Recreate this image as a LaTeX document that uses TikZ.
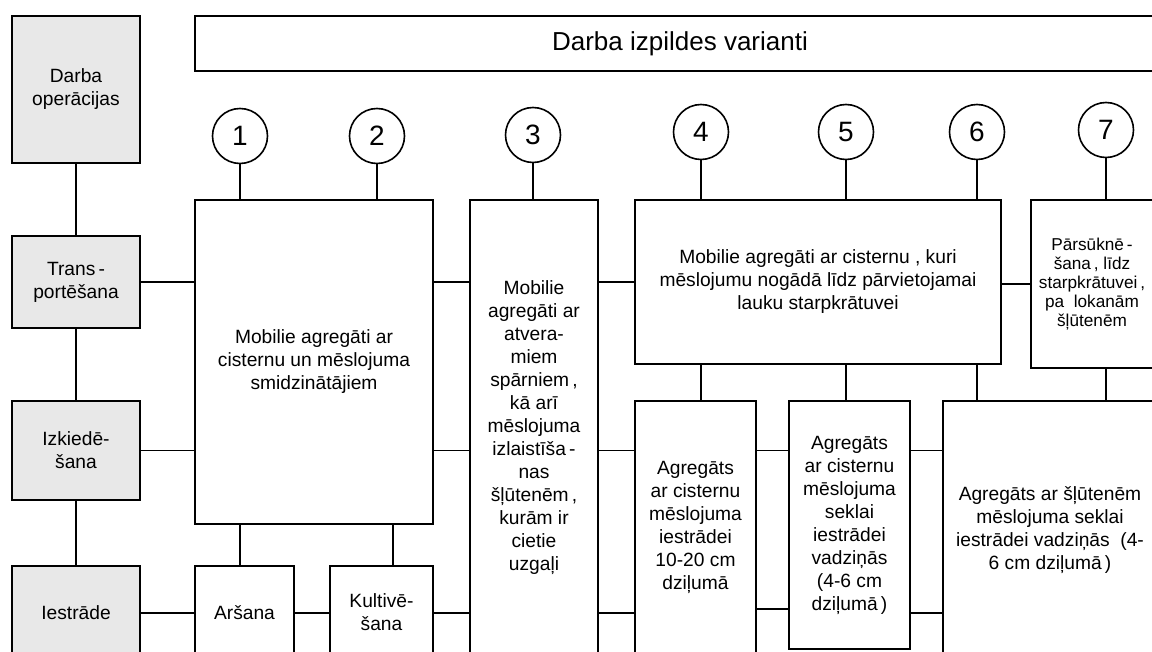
\documentclass[tikz,border=0pt]{standalone}
\usepackage{fontspec}
\setmainfont{Liberation Sans}
\tikzset{
  opbox/.style={draw, fill=gray!18, line width=0.8pt, inner sep=0pt, align=center,
    minimum width=64pt, font=\fontsize{9.6}{11.5}\selectfont},
  varbox/.style={draw, fill=white, line width=0.8pt, inner sep=0pt, align=center,
    font=\fontsize{9.6}{11.5}\selectfont},
  numcirc/.style={circle, draw, line width=0.8pt, minimum size=27.5pt, inner sep=0pt,
    font=\fontsize{14}{16}\selectfont},
  link/.style={line width=0.8pt}
}
\begin{document}
\begin{tikzpicture}[x=0.5pt, y=-0.5pt]
	\useasboundingbox (0,0) rectangle (1152,652);
	\clip (0,0) rectangle (1152,652);

	% Operations column
	\node[opbox, minimum height=73.5pt] (ops) at (76, 89.5) {Darba\\ operācijas};
	\node[opbox, minimum height=46pt] (trans) at (76, 282) {Trans\,-\\ portēšana};
	\node[opbox, minimum height=49.5pt] (izk) at (76, 450.5) {Izkiedē-\\ šana};
	\node[opbox, minimum height=47pt] (iestr) at (76, 613) {Iestrāde};

	% Header
	\node[varbox, minimum width=485pt, minimum height=27.5pt, font=\fontsize{13}{15}\selectfont] (head) at (680, 43.5) {Darba izpildes varianti};

	% Variant numbers
	\node[numcirc] (c1) at (240, 136) {1};
	\node[numcirc] (c2) at (377, 136) {2};
	\node[numcirc] (c3) at (533, 135) {3};
	\node[numcirc] (c4) at (701, 132) {4};
	\node[numcirc] (c5) at (846, 132) {5};
	\node[numcirc] (c6) at (977, 132) {6};
	\node[numcirc] (c7) at (1106, 130) {7};

	% Variant boxes
	\node[varbox, minimum width=119pt, minimum height=162pt] (mobcist) at (314, 362) {Mobilie agregāti ar\\ cisternu un mēslojuma\\ smidzinātājiem};
	\node[varbox, minimum width=64pt, minimum height=228pt] (atv) at (534, 428) {Mobilie\\ agregāti ar\\ atvera-\\ miem\\ spārniem\,,\\ kā arī\\ mēslojuma\\ izlaistīša\,-\\ nas\\ šļūtenēm\,,\\ kurām ir\\ cietie\\ uzgaļi};
	\node[varbox, minimum width=183pt, minimum height=82pt] (moblauk) at (818, 282) {Mobilie agregāti ar cisternu , kuri\\ mēslojumu nogādā līdz pārvietojamai\\ lauku starpkrātuvei};
	\node[varbox, minimum width=61pt, minimum height=84pt, font=\fontsize{8.6}{9.4}\selectfont] (parsukn) at (1092, 284) {Pārsūknē\,-\\ šana\,, līdz\\ starpkrātuvei\,,\\ pa\ \ lokanām\\ šļūtenēm};
	\node[varbox, minimum width=60.5pt, minimum height=126pt] (agr1) at (695.5, 527) {Agregāts\\ ar cisternu\\ mēslojuma\\ iestrādei\\ 10-20 cm\\ dziļumā};
	\node[varbox, minimum width=60.5pt, minimum height=124pt] (agr2) at (849.5, 525) {Agregāts\\ ar cisternu\\ mēslojuma\\ seklai\\ iestrādei\\ vadziņās\\ (4-6 cm\\ dziļumā\,)};
	\node[varbox, minimum width=107pt, minimum height=129pt] (agr3) at (1050, 530) {Agregāts ar šļūtenēm\\ mēslojuma seklai\\ iestrādei vadziņās\ \ (4-\\ 6 cm dziļumā\,)};
	\node[varbox, minimum width=49.5pt, minimum height=47pt] (ars) at (244.5, 613) {Aršana};
	\node[varbox, minimum width=51.5pt, minimum height=46pt] (kult) at (381.5, 612) {Kultivē-\\ šana};

	% Operations chain
	\draw[link] (ops) -- (trans);
	\draw[link] (trans) -- (izk);
	\draw[link] (izk) -- (iestr);

	% Numbers to variants
	\draw[link] (c1) -- (c1 |- mobcist.north);
	\draw[link] (c2) -- (c2 |- mobcist.north);
	\draw[link] (c3) -- (c3 |- atv.north);
	\draw[link] (c4) -- (c4 |- moblauk.north);
	\draw[link] (c5) -- (c5 |- moblauk.north);
	\draw[link] (c6) -- (c6 |- moblauk.north);
	\draw[link] (c7) -- (c7 |- parsukn.north);

	% Transport row
	\draw[link] (trans.east) -- (trans.east -| mobcist.west);
	\draw[link] (mobcist.east |- trans) -- (atv.west |- trans);
	\draw[link] (atv.east |- trans) -- (moblauk.west |- trans);
	\draw[link] (moblauk.east |- parsukn) -- (parsukn.west);

	% Spreading row
	\draw[link] (izk.east) -- (izk.east -| mobcist.west);
	\draw[link] (mobcist.east |- izk) -- (atv.west |- izk);
	\draw[link] (atv.east |- izk) -- (agr1.west |- izk);
	\draw[link] (agr1.east |- izk) -- (agr2.west |- izk);
	\draw[link] (agr2.east |- izk) -- (agr3.west |- izk);

	% Incorporation row
	\draw[link] (iestr.east) -- (ars.west);
	\draw[link] (ars.east |- iestr) -- (kult.west |- iestr);
	\draw[link] (kult.east |- iestr) -- (atv.west |- iestr);
	\draw[link] (atv.east |- iestr) -- (agr1.west |- iestr);
	\draw[link] ([yshift=2pt]agr1.east |- iestr) -- ([yshift=2pt]agr2.west |- iestr);
	\draw[link] (agr2.east |- iestr) -- (agr3.west |- iestr);

	% Variants down to next operation
	\draw[link] (c1 |- mobcist.south) -- (c1 |- ars.north);
	\draw[link] ([xshift=5.75pt]kult.north |- mobcist.south) -- ([xshift=5.75pt]kult.north);
	\draw[link] (c4 |- moblauk.south) -- (c4 |- agr1.north);
	\draw[link] (c5 |- moblauk.south) -- (c5 |- agr2.north);
	\draw[link] (c6 |- moblauk.south) -- (c6 |- agr3.north);
	\draw[link] (c7 |- parsukn.south) -- (c7 |- agr3.north);
\end{tikzpicture}
\end{document}
